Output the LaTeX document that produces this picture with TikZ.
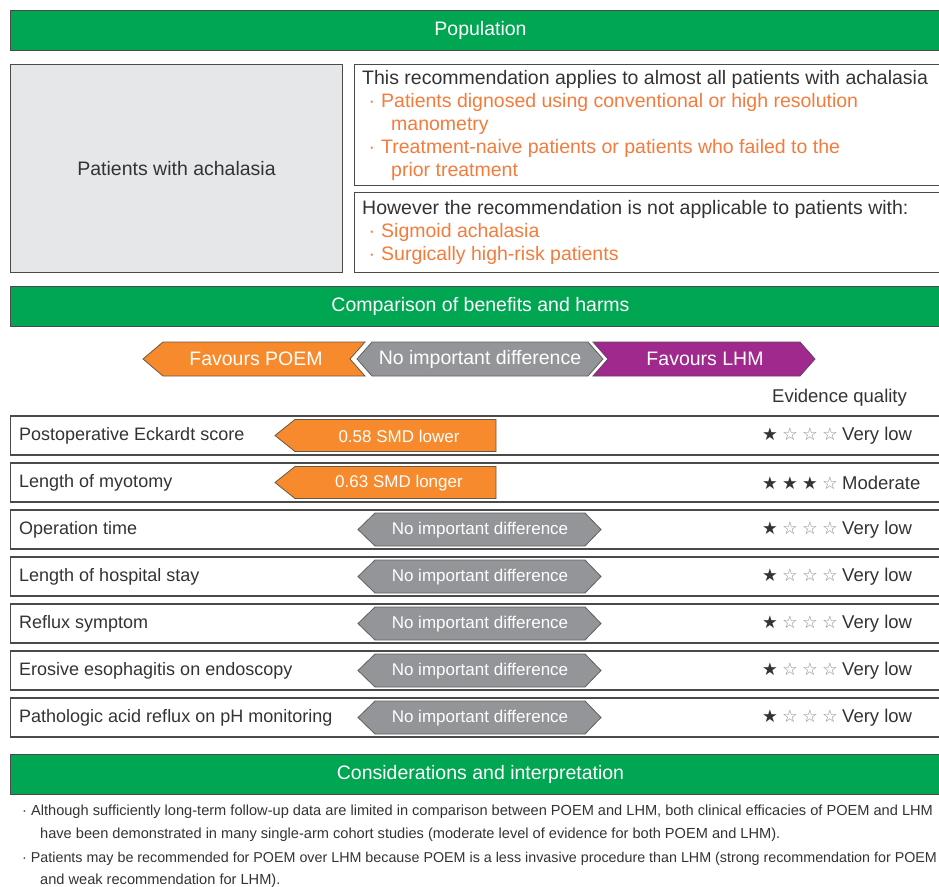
\documentclass[tikz,border=0pt]{standalone}
\usepackage{fontspec}
\setmainfont{Liberation Sans}
\newfontfamily\starfont{DejaVu Sans}
\usetikzlibrary{positioning}
\definecolor{hdrgreen}{HTML}{00A651}
\definecolor{poemorange}{HTML}{F68A2C}
\definecolor{txtorange}{HTML}{F47B3C}
\definecolor{lhmpurple}{HTML}{A0298D}
\definecolor{nidgray}{HTML}{939598}
\definecolor{boxgray}{HTML}{E6E7E8}
\definecolor{linegray}{HTML}{4A4A4A}
\definecolor{txtgray}{HTML}{333333}
\definecolor{stargray}{HTML}{8A8A8A}
\newcommand\fullstar{\makebox[20pt][l]{\starfont\fontsize{17.5}{20}\selectfont\color{txtgray}★}}
\newcommand\emptystar{\makebox[20pt][l]{\starfont\fontsize{17.5}{20}\selectfont\color{stargray}☆}}
\newcommand\bul{\makebox[19pt][r]{·\hspace{6pt}}}

\begin{document}
\begin{tikzpicture}[x=1pt,y=-1pt,
    hdr/.style={draw=linegray, line width=1pt, fill=hdrgreen, text=white,
      font=\fontsize{19.5}{22}\selectfont, minimum width=945pt, minimum height=40pt,
      anchor=north west, inner sep=0pt},
    infobox/.style={draw=linegray, line width=1pt, anchor=north west, inner sep=0pt},
    rowbox/.style={draw=linegray, line width=1.3pt, minimum width=945pt,
      minimum height=39pt, anchor=west, inner sep=0pt},
    rowlabel/.style={anchor=west, text=txtgray, font=\fontsize{18}{20}\selectfont, inner sep=0pt},
    bigtext/.style={text=txtgray, font=\fontsize{19.5}{23}\selectfont, align=left, inner sep=0pt, anchor=north west},
    arrtext/.style={text=white, font=\fontsize{19.5}{22}\selectfont, inner sep=0pt},
    bartext/.style={text=white, font=\fontsize{17}{18}\selectfont, inner sep=0pt},
    poembar/.style={fill=poemorange, draw=linegray!80!poemorange, line width=0.8pt},
    nidbar/.style={fill=nidgray, draw=linegray!70!nidgray, line width=0.8pt},
    lhmbar/.style={fill=lhmpurple, draw=linegray!60!lhmpurple, line width=0.8pt},
    quality/.style={anchor=west, text=txtgray, font=\fontsize{18.5}{20}\selectfont, inner sep=0pt},
    note/.style={anchor=base west, text=txtgray, font=\fontsize{14.6}{16}\selectfont, inner sep=0pt}
  ]
  \clip (0,0) rectangle (939,886);

  % Population
  \node[hdr] (population) at (10,10) {\hspace*{-5pt}Population};
  \node[infobox, fill=boxgray, minimum width=332pt, minimum height=208pt] (patients) at (10,64) {};
  \node[text=txtgray, font=\fontsize{19.5}{22}\selectfont] (patlabel) at (patients.center) {Patients with achalasia};
  \node[infobox, minimum width=600pt, minimum height=121pt] (applies) at (354,64) {};
  \node[infobox, minimum width=600pt, minimum height=80pt] (notapplies) at (354,192) {};
  \node[bigtext] (appliestext) at (362,70) {This recommendation applies to almost all patients with achalasia\\
    \color{txtorange}\bul Patients dignosed using conventional or high resolution\\
    \color{txtorange}\hspace*{29pt}manometry\\
    \color{txtorange}\bul Treatment-naive patients or patients who failed to the\\
    \color{txtorange}\hspace*{29pt}prior treatment};
  \node[bigtext] (notappliestext) at (362,200) {However the recommendation is not applicable to patients with:\\
    \color{txtorange}\bul Sigmoid achalasia\\
    \color{txtorange}\bul Surgically high-risk patients};

  % Comparison of benefits and harms
  \node[hdr] (comparison) at (10,286) {\hspace*{-5pt}Comparison of benefits and harms};
  \draw[poembar] (143,359) -- (163,342) -- (365,342) -- (350,359) -- (365,376) -- (163,376) -- cycle;
  \node[arrtext] (favpoem) at (256,359) {Favours POEM};
  \draw[nidbar] (357,359) -- (372,342) -- (588,342) -- (603,359) -- (588,376) -- (372,376) -- cycle;
  \node[arrtext] (nodiff) at (480,359) {No important difference};
  \draw[lhmbar] (593,342) -- (800,342) -- (815,359) -- (800,376) -- (593,376) -- (608,359) -- cycle;
  \node[arrtext] (favlhm) at (705,359) {Favours LHM};
  \node[quality] (evidence) at (772,398) {Evidence quality};

  % Outcome rows
  \node[rowbox] (row1) at (10,435.5) {};
  \node[rowlabel] (lab1) at (19,435.5) {Postoperative Eckardt score};
  \draw[poembar] (275,435.5) -- (295,419.5) -- (496,419.5) -- (496,451.5) -- (295,451.5) -- cycle;
  \node[bartext] (est1) at (399,436.5) {0.58 SMD lower};
  \node[quality] (stars1) at (762,435.5) {\fullstar\emptystar\emptystar\emptystar Very low};

  \node[rowbox] (row2) at (10,482.5) {};
  \node[rowlabel] (lab2) at (19,482.5) {Length of myotomy};
  \draw[poembar] (275,482.5) -- (295,466.5) -- (496,466.5) -- (496,498.5) -- (295,498.5) -- cycle;
  \node[bartext] (est2) at (399,483.5) {0.63 SMD longer};
  \node[quality] (stars2) at (762,482.5) {\fullstar\fullstar\fullstar\emptystar Moderate};

  \foreach \i/\lab in {3/Operation time, 4/Length of hospital stay, 5/Reflux symptom,
      6/Erosive esophagitis on endoscopy, 7/Pathologic acid reflux on pH monitoring} {
    \pgfmathsetmacro\cy{435.5+47*(\i-1)}
    \node[rowbox] (row\i) at (10,\cy) {};
    \node[rowlabel] (lab\i) at (19,\cy) {\lab};
    \draw[nidbar] (358,\cy) -- (375,\cy-16.5) -- (585,\cy-16.5) -- (601,\cy)
      -- (585,\cy+16.5) -- (375,\cy+16.5) -- cycle;
    \node[bartext] (est\i) at (480,\cy+1) {No important difference};
    \node[quality] (stars\i) at (762,\cy) {\fullstar\emptystar\emptystar\emptystar Very low};
  }

  % Considerations and interpretation
  \node[hdr] (consider) at (10,754) {\hspace*{-5pt}Considerations and interpretation};
  \node[note] (note1) at (22,815) {· Although sufficiently long-term follow-up data are limited in comparison between POEM and LHM, both clinical efficacies of POEM and LHM};
  \node[note] (note2) at (40,838) {have been demonstrated in many single-arm cohort studies (moderate level of evidence for both POEM and LHM).};
  \node[note, font=\fontsize{14.3}{16}\selectfont] (note3) at (22,862) {· Patients may be recommended for POEM over LHM because POEM is a less invasive procedure than LHM (strong recommendation for POEM};
  \node[note] (note4) at (40,884) {and weak recommendation for LHM).};
\end{tikzpicture}
\end{document}
